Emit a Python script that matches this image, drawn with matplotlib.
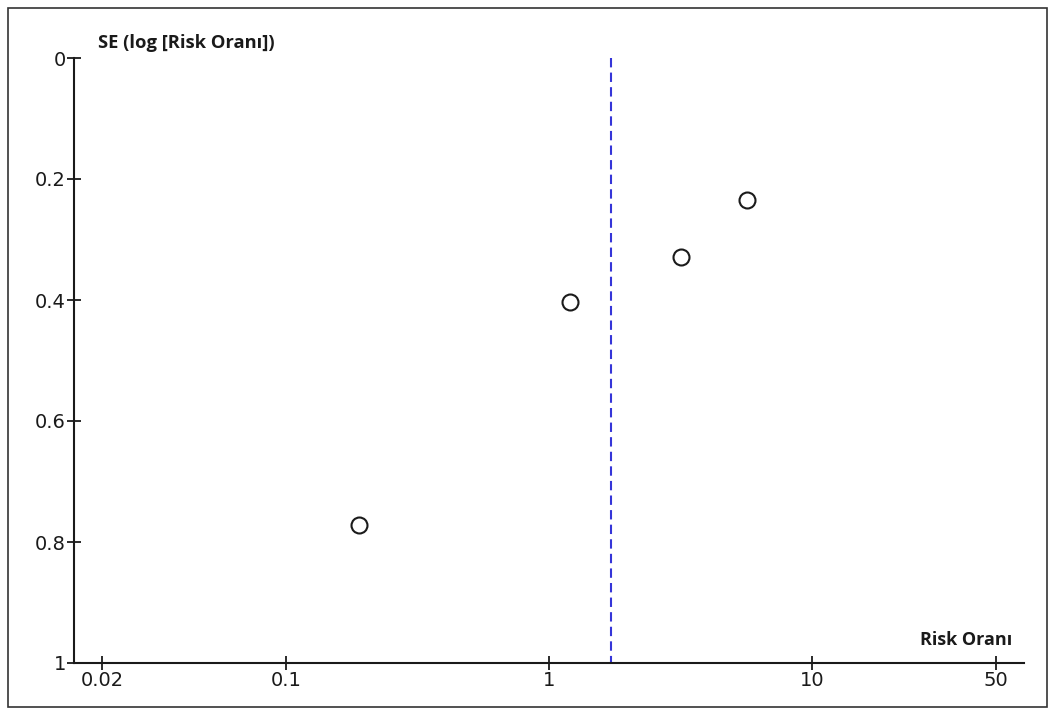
import matplotlib
matplotlib.use("Agg")
import numpy as np
from matplotlib import pyplot as plt
from matplotlib.patches import Rectangle
from matplotlib.ticker import FixedLocator, NullLocator

# study estimates
risk_ratio = [0.19, 1.20, 3.18, 5.66]
se_log_rr = [0.772, 0.403, 0.329, 0.235]
pooled_rr = 1.72

x_ticks = [0.02, 0.1, 1, 10, 50]
x_labels = ["0.02", "0.1", "1", "10", "50"]
y_ticks = [0, 0.2, 0.4, 0.6, 0.8, 1]
y_labels = ["0", "0.2", "0.4", "0.6", "0.8", "1"]

W, H = 1056, 714
fig = plt.figure(figsize=(W / 100, H / 100), dpi=100)
ax = fig.add_axes([74 / W, (H - 663) / H, (1024 - 74) / W, (663 - 58) / H])

ax.set_xscale("log")
ax.set_xlim(10 ** -1.806, 10 ** 1.806)
ax.set_ylim(1, 0)

ax.plot([pooled_rr, pooled_rr], [0, 1], color="#3535d8", lw=1.5,
        dashes=(4.5, 2.5), zorder=1)
ax.plot(risk_ratio, se_log_rr, "o", ms=11.5, mfc="white", mec="#1a1a1a",
        mew=1.5, zorder=3)

for side in ("top", "right"):
    ax.spines[side].set_visible(False)
for side in ("left", "bottom"):
    ax.spines[side].set_linewidth(1.5)
    ax.spines[side].set_color("#1a1a1a")

ax.xaxis.set_major_locator(FixedLocator(x_ticks))
ax.xaxis.set_minor_locator(NullLocator())
ax.set_xticklabels(x_labels)
ax.set_yticks(y_ticks)
ax.set_yticklabels(y_labels)
ax.tick_params(direction="inout", length=9.5, width=1.3, color="#1a1a1a",
               labelsize=14, labelcolor="#1a1a1a", pad=1)

fig.text(98 / W, 1 - 48 / H, "SE (log [Risk Oranı])", family="Open Sans",
         weight="bold", fontsize=13.2, color="#1a1a1a", va="baseline")
fig.text(1012 / W, 1 - 645 / H, "Risk Oranı", family="Open Sans",
         weight="bold", fontsize=13.0, color="#1a1a1a", va="baseline",
         ha="right")

fig.patches.append(Rectangle((8 / W, 7 / H), 1039 / W, 699 / H,
                             transform=fig.transFigure, fill=False,
                             ec="#333333", lw=1.2))

fig.savefig("out.png", dpi=100)
